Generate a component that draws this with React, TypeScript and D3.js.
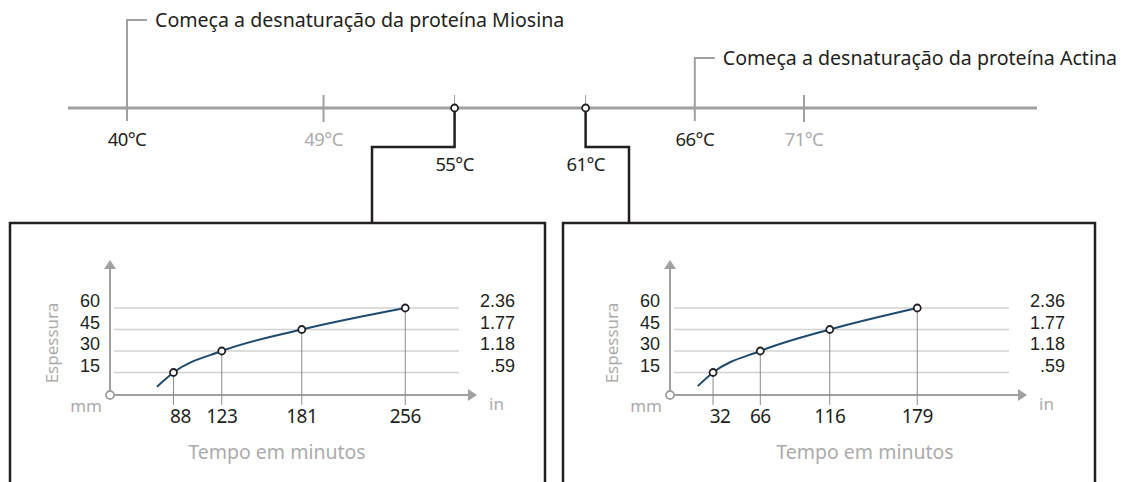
import { useRef, useEffect } from 'react';
import * as d3 from 'd3';

// temperature timeline
const tempValues = [40, 49, 55, 61, 66, 71];
const tempRoles = ['onset', 'minor', 'cook', 'cook', 'onset', 'minor'];
const onsetNotes = [
  'Começa a desnaturação da proteína Miosina',
  'Começa a desnaturação da proteína Actina',
];

// thickness vs cooking time
const thicknessMm = [15, 30, 45, 60];
const thicknessIn = ['.59', '1.18', '1.77', '2.36'];
const minutes55 = [88, 123, 181, 256];
const minutes61 = [32, 66, 116, 179];
const curveStart55 = { t: 76, mm: 5 };
const curveStart61 = { t: 21, mm: 5.5 };

const W = 1122;
const H = 482;
const FONT = '"Noto Sans", "Open Sans", sans-serif';
// tighter line box so the stacked scale labels don't collide
const STACK_FONT = '"Liberation Sans", Arial, sans-serif';
const DARK = '#231f20';
const GREY = '#a0a0a0';
const LIGHT = '#ababab';

const panels = [
  { minutes: minutes55, start: curveStart55, box: [10, 545], attach: 372, ox: 110, len: 367, xDomain: [42, 308], titleX: 277 },
  { minutes: minutes61, start: curveStart61, box: [563, 1095], attach: 629, ox: 670, len: 357, xDomain: [1, 258], titleX: 865 },
];

export default function App() {
  const svgRef = useRef(null);

  useEffect(() => {
    if (!svgRef.current) return;
    const svg = d3.select(svgRef.current);
    svg.selectAll('*').remove();
    svg.attr('width', W).attr('height', H);
    const g = svg.append('g').style('font-family', FONT);

    const lineY = 108;
    const boxTop = 223;
    const tempX = d3.scaleLinear().domain([40, 71]).range([127, 804]);

    // boxes (open at the bottom)
    panels.forEach(p => {
      g.append('path')
        .attr('d', `M${p.box[0]},${H + 4}V${boxTop}H${p.box[1]}V${H + 4}`)
        .attr('fill', 'none').attr('stroke', DARK).attr('stroke-width', 2.5);
    });

    // timeline
    g.append('line')
      .attr('x1', 68).attr('x2', 1037).attr('y1', lineY).attr('y2', lineY)
      .attr('stroke', GREY).attr('stroke-width', 3);

    let onsetIdx = 0;
    let cookIdx = 0;
    tempValues.forEach((t, i) => {
      const x = tempX(t);
      const role = tempRoles[i];
      if (role === 'onset') {
        const top = onsetIdx === 0 ? 20 : 58;
        g.append('path')
          .attr('d', `M${x},${lineY + 13}V${top}H${x + 20}`)
          .attr('fill', 'none').attr('stroke', GREY).attr('stroke-width', 2);
        g.append('text')
          .attr('x', x + 28).attr('y', top + 7)
          .attr('fill', DARK).style('font-size', '19.6px')
          .text(onsetNotes[onsetIdx]);
        onsetIdx++;
      } else if (role === 'minor') {
        g.append('line')
          .attr('x1', x).attr('x2', x).attr('y1', lineY - 13).attr('y2', lineY + 14)
          .attr('stroke', GREY).attr('stroke-width', 2);
      } else {
        const p = panels[cookIdx];
        g.append('line')
          .attr('x1', x).attr('x2', x).attr('y1', lineY - 13).attr('y2', lineY)
          .attr('stroke', GREY).attr('stroke-width', 1);
        g.append('path')
          .attr('d', `M${x},${lineY + 3}V147H${p.attach}V${boxTop}`)
          .attr('fill', 'none').attr('stroke', DARK).attr('stroke-width', 2.5);
        g.append('circle')
          .attr('cx', x).attr('cy', lineY).attr('r', 3.5)
          .attr('fill', '#fff').attr('stroke', DARK).attr('stroke-width', 1.8);
        cookIdx++;
      }
      g.append('text')
        .attr('x', x).attr('y', role === 'cook' ? 171 : 146)
        .attr('text-anchor', 'middle')
        .attr('fill', role === 'minor' ? LIGHT : DARK)
        .style('font-size', '18.5px').style('letter-spacing', '-0.6px')
        .text(`${t}°C`);
    });

    // panels
    const oy = 395;
    const y = d3.scaleLinear().domain([0, 60]).range([394, 308]);
    panels.forEach(p => {
      const pg = g.append('g');
      const x = d3.scaleLinear().domain(p.xDomain).range([p.ox, p.ox + p.len]);
      const tip = p.ox + p.len;

      // grid
      pg.selectAll('line.grid').data(thicknessMm).enter().append('line')
        .attr('x1', p.ox + 4).attr('x2', tip - 18)
        .attr('y1', d => y(d)).attr('y2', d => y(d))
        .attr('stroke', '#d2d2d2').attr('stroke-width', 1.5);

      // axes
      pg.append('line').attr('x1', p.ox).attr('x2', p.ox).attr('y1', oy).attr('y2', 266)
        .attr('stroke', GREY).attr('stroke-width', 2);
      pg.append('path').attr('d', `M${p.ox},260L${p.ox - 6},269L${p.ox + 6},269Z`).attr('fill', GREY);
      pg.append('line').attr('x1', p.ox).attr('x2', tip - 6).attr('y1', oy).attr('y2', oy)
        .attr('stroke', GREY).attr('stroke-width', 2);
      pg.append('path').attr('d', `M${tip},${oy}L${tip - 9},${oy - 6}L${tip - 9},${oy + 6}Z`).attr('fill', GREY);
      pg.append('circle').attr('cx', p.ox).attr('cy', oy).attr('r', 4)
        .attr('fill', '#fff').attr('stroke', GREY).attr('stroke-width', 1.8);

      // y labels
      pg.selectAll('text.mm').data(thicknessMm).enter().append('text')
        .attr('x', p.ox - 10).attr('y', d => y(d) - 1)
        .attr('text-anchor', 'end').attr('fill', DARK)
        .style('font-family', STACK_FONT).style('font-size', '18px')
        .text(d => d);
      pg.selectAll('text.in').data(thicknessIn).enter().append('text')
        .attr('x', tip + 38).attr('y', (d, i) => y(thicknessMm[i]) - 1)
        .attr('text-anchor', 'end').attr('fill', DARK)
        .style('font-family', STACK_FONT).style('font-size', '18px')
        .text(d => d);

      pg.append('text').attr('x', p.ox - 8).attr('y', 412).attr('text-anchor', 'end')
        .attr('fill', LIGHT).style('font-size', '17px').text('mm');
      pg.append('text').attr('x', tip + 12).attr('y', 410)
        .attr('fill', LIGHT).style('font-size', '17px').text('in');
      pg.append('text')
        .attr('transform', `translate(${p.ox - 58},343) rotate(-90)`)
        .attr('text-anchor', 'middle').attr('dy', '0.35em')
        .attr('fill', LIGHT).style('font-size', '17px').text('Espessura');
      pg.append('text').attr('x', p.titleX).attr('y', 459).attr('text-anchor', 'middle')
        .attr('fill', LIGHT).style('font-size', '19.5px').text('Tempo em minutos');

      const pts = p.minutes.map((t, i) => ({ t, mm: thicknessMm[i] }));

      // drop lines
      pg.selectAll('line.drop').data(pts).enter().append('line')
        .attr('x1', d => x(d.t)).attr('x2', d => x(d.t))
        .attr('y1', d => y(d.mm)).attr('y2', 405)
        .attr('stroke', '#8a8a8a').attr('stroke-width', 1);

      // curve
      const line = d3.line().x(d => x(d.t)).y(d => y(d.mm)).curve(d3.curveMonotoneX);
      pg.append('path').datum([p.start, ...pts]).attr('d', line)
        .attr('fill', 'none').attr('stroke', '#1f4a6e').attr('stroke-width', 2);

      pg.selectAll('circle.pt').data(pts).enter().append('circle')
        .attr('cx', d => x(d.t)).attr('cy', d => y(d.mm)).attr('r', 3.5)
        .attr('fill', '#fff').attr('stroke', DARK).attr('stroke-width', 1.8);

      // x tick labels
      pg.selectAll('text.t').data(pts).enter().append('text')
        .attr('x', (d, i) => x(d.t) + (i === 0 ? 7 : 0)).attr('y', 423)
        .attr('text-anchor', 'middle').attr('fill', DARK).style('font-size', '19px')
        .style('letter-spacing', '-0.5px')
        .text(d => d.t);
    });
  }, []);

  return (
    <svg ref={svgRef} style={{ position: 'absolute', left: 0, top: 0, background: '#fff' }} />
  );
}
